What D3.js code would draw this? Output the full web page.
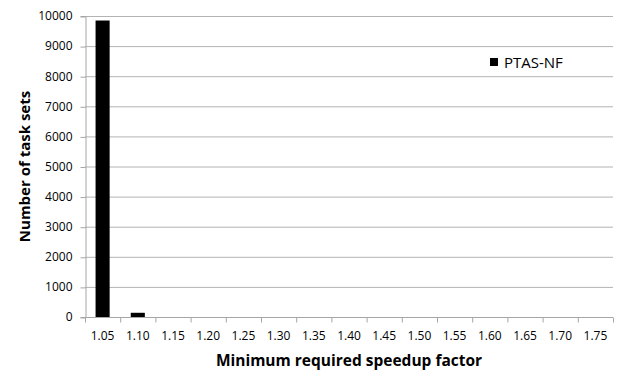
<!DOCTYPE html>
<html>
<head>
<meta charset="utf-8">
<script src="https://cdn.jsdelivr.net/npm/d3@7"></script>
<style>
    body { margin: 0; background: #fff; }
    svg { display: block; font-family: "Open Sans", sans-serif; }
</style>
</head>
<body>
<svg width="623" height="379"></svg>
<script>
// speedup factor categories and task set counts
const factors = ['1.05', '1.10', '1.15', '1.20', '1.25', '1.30', '1.35', '1.40',
    '1.45', '1.50', '1.55', '1.60', '1.65', '1.70', '1.75']
const counts = [9850, 140, 0, 0, 0, 0, 0, 0, 0, 0, 0, 0, 0, 0, 0]
const yTicks = [0, 1000, 2000, 3000, 4000, 5000, 6000, 7000, 8000, 9000, 10000]
const seriesName = 'PTAS-NF'

const margin = { top: 16, right: 10, bottom: 62, left: 85 }
const width = 623
const height = 379
const font = '"Open Sans", sans-serif'

const svg = d3.select('svg')

const x = d3.scaleBand()
    .domain(factors)
    .range([margin.left, width - margin.right])
    .paddingInner(0.6)
    .paddingOuter(0.3)

const y = d3.scaleLinear()
    .domain([0, 10000])
    .range([height - margin.bottom, margin.top])

// gridlines
svg.append('g')
    .selectAll('line')
    .data(yTicks.filter(t => t > 0))
    .join('line')
    .attr('x1', margin.left)
    .attr('x2', width - margin.right)
    .attr('y1', d => y(d) + 0.5)
    .attr('y2', d => y(d) + 0.5)
    .attr('stroke', '#b3b3b3')
    .attr('stroke-width', 1)

// y axis
const yAxis = svg.append('g')
    .attr('transform', `translate(${margin.left + 0.5},0)`)
    .call(d3.axisLeft(y).tickValues(yTicks).tickFormat(d3.format('d')).tickSize(5).tickPadding(8))
yAxis.select('.domain').attr('stroke', '#a6a6a6')
yAxis.selectAll('.tick line').attr('stroke', '#a6a6a6').attr('transform', 'translate(0,0.5)')
yAxis.selectAll('text').attr('font-size', 12).attr('fill', '#000').attr('font-family', font)

// bars
svg.append('g')
    .selectAll('rect')
    .data(counts)
    .join('rect')
    .attr('x', (d, i) => x(factors[i]))
    .attr('width', x.bandwidth())
    .attr('y', d => y(d))
    .attr('height', d => y(0) - y(d))
    .attr('fill', '#000')

// x axis with ticks between categories
const xAxis = svg.append('g')
    .attr('transform', `translate(0,${y(0) + 0.5})`)
xAxis.append('line')
    .attr('x1', margin.left)
    .attr('x2', width - margin.right)
    .attr('stroke', '#a6a6a6')
xAxis.selectAll('line.tick')
    .data(factors.concat(['end']))
    .join('line')
    .attr('class', 'tick')
    .attr('x1', (d, i) => margin.left + i * x.step() + 0.5)
    .attr('x2', (d, i) => margin.left + i * x.step() + 0.5)
    .attr('y1', 0)
    .attr('y2', 5)
    .attr('stroke', '#a6a6a6')
xAxis.selectAll('text')
    .data(factors)
    .join('text')
    .attr('x', d => x(d) + x.bandwidth() / 2)
    .attr('y', 22)
    .attr('text-anchor', 'middle')
    .attr('font-size', 12)
    .text(d => d)

// axis titles
svg.append('text')
    .attr('x', (margin.left + width - margin.right) / 2)
    .attr('y', 366)
    .attr('text-anchor', 'middle')
    .attr('font-size', 15.5)
    .attr('font-weight', 'bold')
    .text('Minimum required speedup factor')

svg.append('text')
    .attr('transform', `translate(30,${(y(0) + y(10000)) / 2}) rotate(-90)`)
    .attr('text-anchor', 'middle')
    .attr('font-size', 15)
    .attr('font-weight', 'bold')
    .text('Number of task sets')

// legend
const legend = svg.append('g').attr('transform', 'translate(490,58)')
legend.append('rect').attr('width', 8).attr('height', 8).attr('fill', '#000')
legend.append('text')
    .attr('x', 14)
    .attr('y', 9.5)
    .attr('font-size', 15)
    .text(seriesName)
</script>
</body>
</html>
